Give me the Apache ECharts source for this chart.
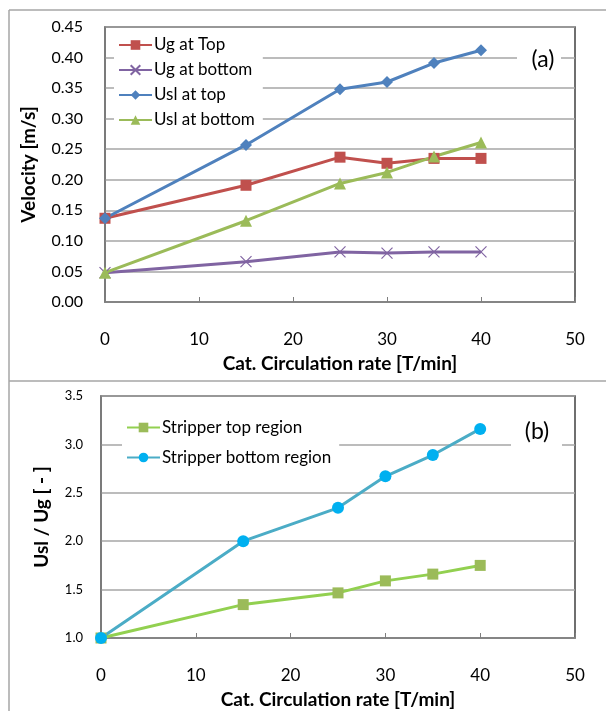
<!DOCTYPE html>
<html><head><meta charset="utf-8">
<script src="https://cdn.jsdelivr.net/npm/echarts@6/dist/echarts.min.js"></script>
<style>html,body{margin:0;padding:0;background:#fff}#c{width:606px;height:711px}</style>
</head><body><div id="c"></div>
<script>
var xVals = [0, 15, 25, 30, 35, 40];
var ugTop = [0.137, 0.191, 0.237, 0.227, 0.235, 0.235];
var ugBottom = [0.048, 0.066, 0.082, 0.080, 0.082, 0.082];
var uslTop = [0.137, 0.257, 0.348, 0.360, 0.391, 0.412];
var uslBottom = [0.048, 0.133, 0.194, 0.212, 0.238, 0.261];
var stripTop = [1.0, 1.345, 1.466, 1.59, 1.66, 1.75];
var stripBottom = [1.0, 2.0, 2.345, 2.67, 2.89, 3.16];
var namesA = ['Ug at Top', 'Ug at bottom', 'Usl at top', 'Usl at bottom'];
var namesB = ['Stripper top region', 'Stripper bottom region'];

function pairs(ys){ return xVals.map(function(x,i){ return [x, ys[i]]; }); }
var F = 'Lato, "Open Sans", sans-serif';
var chart = echarts.init(document.getElementById('c'), null, {renderer:'canvas'});
var gridCol = '#a6a6a6', axCol = '#7f7f7f';
function xAxis(gi){
  return {type:'value', gridIndex:gi, min:0, max:50, interval:10,
    name:'Cat. Circulation rate [T/min]', nameLocation:'middle', nameGap:52,
    nameTextStyle:{fontFamily:F, fontWeight:'bold', fontSize:19, color:'#000'},
    axisLine:{show:true, onZero:false, lineStyle:{color:axCol, width:1.5}},
    axisTick:{show:true, inside:true, length:5, lineStyle:{color:axCol}},
    axisLabel:{fontFamily:F, fontSize:17, color:'#000', margin:29},
    splitLine:{show:false}};
}
var X = 'path://M0,0L10,10M10,0L0,10';
var option = {
  animation:false,
  backgroundColor:'#fff',
  grid:[
    {left:105, top:27, width:470, height:275, show:true, borderColor:'#404040', borderWidth:1.5, backgroundColor:'transparent'},
    {left:101, top:396, width:474, height:242, show:true, borderColor:'#404040', borderWidth:1.5, backgroundColor:'transparent'}
  ],
  xAxis:[xAxis(0), xAxis(1)],
  yAxis:[
    {type:'value', gridIndex:0, min:0, max:0.45, interval:0.05,
     name:'Velocity [m/s]', nameLocation:'middle', nameGap:67,
     nameTextStyle:{fontFamily:F, fontWeight:'bold', fontSize:19, color:'#000'},
     axisLine:{show:true, lineStyle:{color:axCol, width:1.5}},
     axisTick:{show:false},
     axisLabel:{fontFamily:F, fontSize:16, color:'#000', margin:22, formatter:function(v){return v.toFixed(2);}},
     splitLine:{show:true, lineStyle:{color:gridCol, width:1.5}}},
    {type:'value', gridIndex:1, min:1.0, max:3.5, interval:0.5,
     name:'Usl / Ug [ - ]', nameLocation:'middle', nameGap:50,
     nameTextStyle:{fontFamily:F, fontWeight:'bold', fontSize:19, color:'#000'},
     axisLine:{show:true, lineStyle:{color:axCol, width:1.5}},
     axisTick:{show:false},
     axisLabel:{fontFamily:F, fontSize:13, color:'#000', margin:18, formatter:function(v){return v.toFixed(1);}},
     splitLine:{show:true, lineStyle:{color:gridCol, width:1.5}}}
  ],
  legend:[
    {data:namesA, orient:'vertical', left:114, top:34, itemGap:7, itemWidth:33, itemHeight:12,
     backgroundColor:'#fff', padding:[2,8,2,4],
     textStyle:{fontFamily:F, fontSize:17, color:'#000', padding:[0,0,0,-3], lineHeight:18}},
    {data:namesB, orient:'vertical', left:122, top:416, itemGap:11, itemWidth:33, itemHeight:12,
     backgroundColor:'#fff', padding:[2,8,2,4],
     textStyle:{fontFamily:F, fontSize:17, color:'#000', padding:[0,0,0,-3], lineHeight:19}}
  ],
  graphic:[
    {type:'line', shape:{x1:9, y1:10, x2:9, y2:711}, style:{stroke:'#a6a6a6', lineWidth:1.5}, z:0},
    {type:'line', shape:{x1:9, y1:10, x2:606, y2:10}, style:{stroke:'#a6a6a6', lineWidth:1.5}, z:0},
    {type:'line', shape:{x1:9, y1:381, x2:606, y2:381}, style:{stroke:'#a6a6a6', lineWidth:1.5}, z:0},
    {type:'rect', shape:{x:517, y:44, width:44, height:32}, style:{fill:'#fff'}, z:5},
    {type:'text', x:543, y:60, style:{text:'(a)', fill:'#000', font:'23px '+F, textAlign:'center', textVerticalAlign:'middle'}, z:6},
    {type:'rect', shape:{x:511, y:416, width:51, height:32}, style:{fill:'#fff'}, z:5},
    {type:'text', x:537, y:432, style:{text:'(b)', fill:'#000', font:'23px '+F, textAlign:'center', textVerticalAlign:'middle'}, z:6}
  ],
  series:[
    {name:namesA[0], type:'line', xAxisIndex:0, yAxisIndex:0, data:pairs(ugTop), symbol:'rect', symbolSize:11,
     lineStyle:{color:'#C0504D', width:3}, itemStyle:{color:'#C0504D'}},
    {name:namesA[1], type:'line', xAxisIndex:0, yAxisIndex:0, data:pairs(ugBottom), symbol:X, symbolSize:11,
     lineStyle:{color:'#8064A2', width:3}, itemStyle:{color:'#8064A2', borderColor:'#8064A2', borderWidth:1.2}},
    {name:namesA[2], type:'line', xAxisIndex:0, yAxisIndex:0, data:pairs(uslTop), symbol:'diamond', symbolSize:12,
     lineStyle:{color:'#4F81BD', width:3}, itemStyle:{color:'#4F81BD'}},
    {name:namesA[3], type:'line', xAxisIndex:0, yAxisIndex:0, data:pairs(uslBottom), symbol:'triangle', symbolSize:12,
     lineStyle:{color:'#9BBB59', width:3}, itemStyle:{color:'#9BBB59'}},
    {name:namesB[0], type:'line', xAxisIndex:1, yAxisIndex:1, data:pairs(stripTop), symbol:'rect', symbolSize:11,
     lineStyle:{color:'#92D050', width:3}, itemStyle:{color:'#9BBB59'}},
    {name:namesB[1], type:'line', xAxisIndex:1, yAxisIndex:1, data:pairs(stripBottom), symbol:'circle', symbolSize:12,
     lineStyle:{color:'#4BACC6', width:3}, itemStyle:{color:'#00B0F0'}}
  ]
};
chart.setOption(option);
</script></body></html>
